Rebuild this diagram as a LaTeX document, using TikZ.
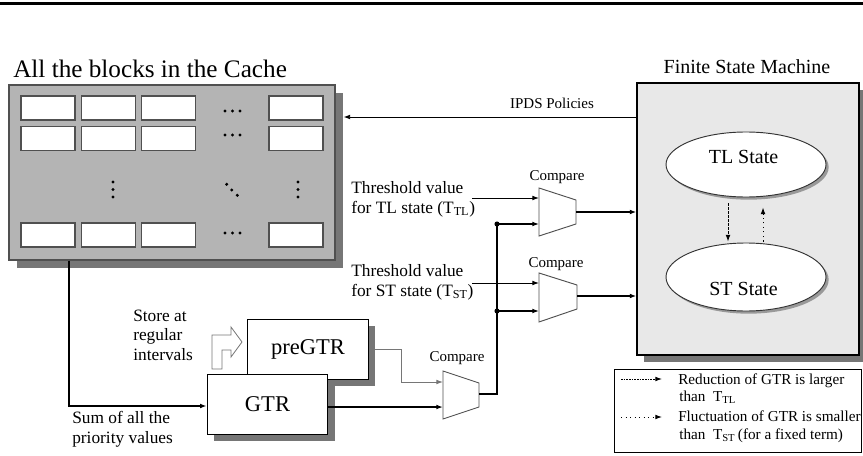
\documentclass[tikz,border=0pt]{standalone}
\usepackage{fontspec}
\setmainfont{Liberation Serif}
\usetikzlibrary{arrows.meta,shadows,shapes.geometric,calc}
\definecolor{cachegray}{HTML}{B4B4B4}
\definecolor{fsmgray}{HTML}{E8E8E8}
\definecolor{shadowgray}{HTML}{767676}
\definecolor{edgegray}{HTML}{505050}
\begin{document}
\begin{tikzpicture}[x=0.75pt,y=-0.75pt,
  arr/.style={-{Latex[length=5pt,width=3.6pt]}},
  thickline/.style={line width=1.2pt},
  thinline/.style={line width=0.7pt},
  shad/.style={drop shadow={shadow xshift=#1,shadow yshift=-#1,fill=shadowgray,opacity=1}},
  cachebox/.style={draw=edgegray,fill=cachegray,line width=0.8pt,minimum width=244.5pt,minimum height=131.25pt,inner sep=0pt,shad=6pt},
  cell/.style={draw=edgegray,fill=white,line width=0.8pt,minimum width=40.5pt,minimum height=18pt,inner sep=0pt},
  regbox/.style={draw=black,fill=white,line width=0.7pt,minimum width=90.5pt,minimum height=45pt,inner sep=0pt,font=\fontsize{16.9}{19}\selectfont,shad=5.25pt},
  fsmbox/.style={draw=black,fill=fsmgray,line width=0.8pt,minimum width=166.5pt,minimum height=204pt,inner sep=0pt,shad=5pt},
  stateell/.style={ellipse,draw=black!80,fill=white,line width=0.7pt,minimum width=120pt,inner sep=0pt,drop shadow={shadow xshift=2pt,shadow yshift=-2pt,fill=black!40,opacity=1}},
  statetxt/.style={inner sep=0pt,anchor=base,font=\fontsize{15}{18}\selectfont},
  cmp/.style={draw=edgegray,fill=white,line width=0.7pt},
  lbl/.style={inner sep=0pt,align=left},
  small/.style={font=\fontsize{11.25}{13}\selectfont},
  legendtxt/.style={inner sep=0pt,anchor=base west,font=\fontsize{11.4}{14}\selectfont},
  mid/.style={font=\fontsize{13}{15}\selectfont}
]
\useasboundingbox (0,0) rectangle (863,456);
% top rule
\draw[line width=2.6pt] (0,3.5) -- (863,3.5);

% cache
\node[lbl,anchor=base west,font=\fontsize{18.9}{22}\selectfont] (cachetitle) at (13,78) {All the blocks in the Cache};
\node[cachebox] (cache) at (172,172.5) {};
\foreach \c/\x in {1/48,2/108.5,3/168.5,5/296}{
  \foreach \r/\y in {1/108,2/138.5,3/235}{
    \node[cell] (cell\r\c) at (\x,\y) {};
  }
}
\foreach \p in {(225,111),(232.5,111),(240,111),(225,135),(232.5,135),(240,135),(225,233),(232.5,233),(240,233),
  (113,182),(113,189.5),(113,197),(298,182),(298,189.5),(298,197),(226.7,184.3),(231.7,190),(237.3,195.3)}
  \fill \p circle (1.25pt);

% FSM
\node[lbl,font=\fontsize{15}{18}\selectfont] (fsmtitle) at (747,67) {Finite State Machine};
\node[fsmbox] (fsm) at (748,219) {};
\node[stateell,minimum height=48.75pt] (TL) at (746,164.5) {};
\node[stateell,minimum height=51pt] (ST) at (746,277) {};
\node[statetxt] (TLt) at (743.5,163) {TL State};
\node[statetxt] (STt) at (743.5,295) {ST State};
\draw[arr,thinline,dash pattern=on 2pt off 1pt] ($(TL.south)+(-18,6)$) -- ($(ST.north)+(-18,-1)$);
\draw[arr,thinline,dash pattern=on 0.8pt off 2.6pt] ($(ST.north)+(17,-1)$) -- ($(TL.south)+(17,10)$);

% IPDS
\node[lbl,small] (ipds) at (552,103) {IPDS Policies};
\coordinate (ipdsend) at ($(cache.east)+(8,0)$);
\draw[arr,thinline] (fsm.west |- 0,117) -- (ipdsend |- 0,117);

% registers
\node[regbox] (pre) at (308,349) {preGTR};
\node[regbox] (GTR) at (267.5,404) {GTR};
\draw[draw=shadowgray,fill=white,line width=0.6pt] (212,369) -- (212,335) -- (231,335) -- (231,327) -- (242,342) -- (231,357) -- (231,350) -- (222,350) -- (222,369) -- cycle;
\node[lbl,anchor=west,font=\fontsize{13}{14.6}\selectfont] (store) at (133,335) {Store at\\regular\\intervals};
\node[lbl,mid,anchor=west] (sum) at (72,429) {Sum of all the\\priority values};
\draw[arr,thickline] (cache.south -| 69,0) |- (GTR.west |- 0,406);

% compare units
\draw[cmp] (443,371) -- (479,383) -- (479,407) -- (443,419) -- cycle;
\draw[cmp] (539,188) -- (576,200) -- (576,224) -- (539,236) -- cycle;
\draw[cmp] (539,273) -- (577,285) -- (577,309) -- (539,322) -- cycle;
\coordinate (c3a) at (443,382); \coordinate (c3b) at (443,407); \coordinate (c3o) at (479,394);
\coordinate (c1a) at (539,198); \coordinate (c1b) at (539,224); \coordinate (c1o) at (576,212);
\coordinate (c2a) at (539,283); \coordinate (c2b) at (539,311); \coordinate (c2o) at (577,296);
\node[lbl,small] (cmp3l) at (457,358) {Compare};
\node[lbl,small] (cmp1l) at (557,177) {Compare};
\node[lbl,small] (cmp2l) at (556,264) {Compare};

\draw[arr,line width=0.7pt,draw=shadowgray] (pre.east) -| (401,382) -- (c3a);
\draw[arr,thickline] (GTR.east |- c3b) -- (c3b);

\coordinate (j1) at (497,224);
\coordinate (j2) at (497,311);
\draw[thickline] (c3o) -| (j1);
\draw[arr,thickline] (j1) -- (c1b);
\draw[arr,thickline] (j2) -- (c2b);
\fill (j1) circle (1.9pt);
\fill (j2) circle (1.9pt);

\node[lbl,mid,anchor=west] (th1) at (351,199) {Threshold value\\for TL state (T\textsubscript{TL})};
\node[lbl,mid,anchor=west] (th2) at (351,282) {Threshold value\\for ST state (T\textsubscript{ST})};
\coordinate (t1) at (472,198);
\coordinate (t2) at (472,283);
\draw[arr,thinline] (t1) -- (c1a);
\draw[arr,thinline] (t2) -- (c2a);

\draw[arr,thickline] (c1o) -- (fsm.west |- c1o);
\draw[arr,thickline] (c2o) -- (fsm.west |- c2o);

% legend
\node[draw=black,line width=0.7pt,minimum width=185.25pt,minimum height=62.25pt,inner sep=0pt] (legend) at (738,410.5) {};
\coordinate (l1a) at (621,379); \coordinate (l1b) at (662,379);
\coordinate (l2a) at (621,417); \coordinate (l2b) at (662,417);
\draw[arr,thinline,dash pattern=on 1.2pt off 0.8pt] (l1a) -- (l1b);
\draw[arr,thinline,dash pattern=on 0.8pt off 2.6pt] (l2a) -- (l2b);
\node[legendtxt] (lg1) at (678,384) {Reduction of GTR is larger};
\node[legendtxt] (lg2) at (679,401) {than\ \ T\textsubscript{TL}};
\node[legendtxt] (lg3) at (678,421) {Fluctuation of GTR is smaller};
\node[legendtxt] (lg4) at (679,439) {than\ \ T\textsubscript{ST}\,(for a fixed term)};
\end{tikzpicture}
\end{document}
